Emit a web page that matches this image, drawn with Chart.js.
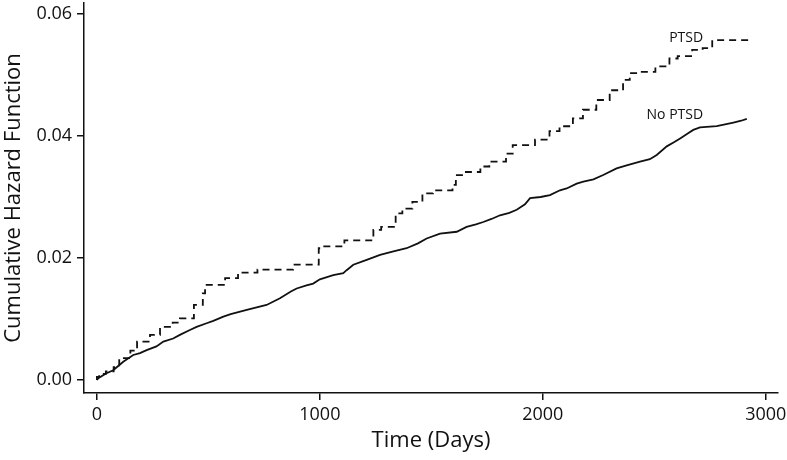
<!DOCTYPE html>
<html>
<head>
<meta charset="utf-8">
<title>Cumulative Hazard Function</title>
<script src="https://cdn.jsdelivr.net/npm/chart.js@4.4.1/dist/chart.umd.min.js"></script>
<style>
    body {
        margin: 0;
        background: #fff;
    }
    .chart-box {
        width: 787px;
        height: 460px;
    }
</style>
</head>
<body>
<div class="chart-box">
    <canvas id="hazard-chart"></canvas>
</div>
<script>
// PTSD group (dashed step curve)
const ptsdDays = [0, 10, 40, 75, 100, 150, 180, 238, 283, 340, 372, 435, 475, 485,
    575, 633, 720, 880, 995, 1012, 1110, 1240, 1275, 1340, 1370, 1415, 1460, 1507,
    1595, 1610, 1655, 1720, 1760, 1835, 1865, 1965, 2030, 2075, 2135, 2180, 2240,
    2300, 2360, 2390, 2425, 2505, 2568, 2605, 2670, 2717, 2760, 2838, 2922];
const ptsdHazard = [0, 0.0005, 0.0010, 0.0014, 0.0021, 0.0036, 0.0048, 0.0063, 0.0074,
    0.0087, 0.0094, 0.0101, 0.0123, 0.0142, 0.0156, 0.0167, 0.0176, 0.0181, 0.0189,
    0.0216, 0.0219, 0.0229, 0.0246, 0.0251, 0.0273, 0.0281, 0.0292, 0.0306, 0.0311,
    0.0320, 0.0336, 0.0341, 0.0350, 0.0358, 0.0371, 0.0385, 0.0394, 0.0408, 0.0416,
    0.0429, 0.0443, 0.0459, 0.0475, 0.0492, 0.0503, 0.0505, 0.0514, 0.0527, 0.0531,
    0.0541, 0.0544, 0.0557, 0.0557];

// No PTSD group (solid curve)
const noPtsdDays = [0, 6, 43, 73, 118, 163, 193, 223, 267, 298, 342, 372, 417, 447,
    492, 522, 567, 600, 672, 761, 821, 870, 896, 940, 970, 1000, 1060, 1105, 1120,
    1150, 1210, 1270, 1330, 1389, 1440, 1479, 1539, 1614, 1658, 1700, 1733, 1770,
    1808, 1850, 1883, 1920, 1943, 1990, 2032, 2077, 2107, 2152, 2182, 2227, 2271,
    2331, 2376, 2436, 2480, 2511, 2556, 2590, 2616, 2650, 2675, 2705, 2780, 2855,
    2890, 2915];
const noPtsdHazard = [0, 0.0003, 0.0011, 0.0016, 0.0030, 0.0041, 0.0044, 0.0049,
    0.0055, 0.0063, 0.0068, 0.0074, 0.0082, 0.0087, 0.0093, 0.0097, 0.0104, 0.0108,
    0.0115, 0.0123, 0.0134, 0.0145, 0.0150, 0.0155, 0.0158, 0.0165, 0.0172, 0.0175,
    0.0180, 0.0189, 0.0197, 0.0205, 0.0211, 0.0216, 0.0224, 0.0232, 0.0240, 0.0243,
    0.0251, 0.0255, 0.0259, 0.0264, 0.0270, 0.0274, 0.0279, 0.0288, 0.0298, 0.0300,
    0.0303, 0.0311, 0.0314, 0.0322, 0.0325, 0.0329, 0.0336, 0.0347, 0.0352, 0.0358,
    0.0362, 0.0369, 0.0383, 0.0390, 0.0396, 0.0404, 0.0410, 0.0414, 0.0416, 0.0422,
    0.0425, 0.0428];

// Tick labels
const xTicks = [0, 1000, 2000, 3000];
const yTicks = [0, 0.02, 0.04, 0.06];

// Curve labels: text, day, hazard (right aligned)
const curveLabels = [
    ["PTSD", 2719, 0.0560],
    ["No PTSD", 2719, 0.0434]
];

const fontName = "'Open Sans', sans-serif";

const toPoints = (days, vals) => days.map((d, i) => ({ x: d, y: vals[i] }));

// Draw curve names next to the lines
const labelPlugin = {
    id: 'curveLabels',
    afterDatasetsDraw(chart) {
        const ctx = chart.ctx;
        const xs = chart.scales.x;
        const ys = chart.scales.y;
        ctx.save();
        ctx.font = "14px " + fontName;
        ctx.fillStyle = '#111';
        ctx.textAlign = 'right';
        ctx.textBaseline = 'middle';
        curveLabels.forEach(l => {
            ctx.fillText(l[0], xs.getPixelForValue(l[1]), ys.getPixelForValue(l[2]));
        });
        ctx.restore();
    }
};

const hazardCanvas = document.getElementById("hazard-chart");

let hazardChart = new Chart(hazardCanvas, {
    type: 'line',
    data: {
        datasets: [{
            label: 'PTSD',
            data: toPoints(ptsdDays, ptsdHazard),
            borderColor: '#111',
            borderWidth: 1.8,
            borderDash: [7, 5],
            stepped: 'after',
            pointRadius: 0,
            fill: false
        }, {
            label: 'No PTSD',
            data: toPoints(noPtsdDays, noPtsdHazard),
            borderColor: '#111',
            borderWidth: 1.8,
            pointRadius: 0,
            tension: 0,
            fill: false
        }]
    },
    options: {
        responsive: true,
        maintainAspectRatio: false,
        animation: false,
        layout: {
            padding: { top: 3, right: 9, left: 0, bottom: 0 }
        },
        plugins: {
            legend: { display: false },
            tooltip: { enabled: false }
        },
        scales: {
            x: {
                type: 'linear',
                min: -58,
                max: 3055,
                afterBuildTicks: (scale) => {
                    scale.ticks = xTicks.map(v => ({ value: v }));
                },
                afterFit: (scale) => {
                    scale.height = 67;
                    scale.paddingLeft = 0;
                    scale.paddingRight = 0;
                },
                ticks: {
                    color: '#111',
                    padding: 4,
                    maxRotation: 0,
                    font: { family: fontName, size: 18 },
                    callback: (v) => String(v)
                },
                grid: {
                    drawOnChartArea: false,
                    drawTicks: true,
                    tickLength: 7,
                    color: '#111',
                    lineWidth: 1.5
                },
                border: { display: true, color: '#111', width: 1.5 },
                title: {
                    display: true,
                    text: 'Time (Days)',
                    color: '#111',
                    padding: { top: 0, bottom: 6 },
                    font: { family: fontName, size: 22 }
                }
            },
            y: {
                type: 'linear',
                min: -0.00213,
                max: 0.0618,
                afterBuildTicks: (scale) => {
                    scale.ticks = yTicks.map(v => ({ value: v }));
                },
                afterFit: (scale) => {
                    scale.width = 84;
                    scale.paddingTop = 0;
                    scale.paddingBottom = 0;
                },
                ticks: {
                    color: '#111',
                    padding: 5,
                    font: { family: fontName, size: 18 },
                    callback: (v) => v.toFixed(2)
                },
                grid: {
                    drawOnChartArea: false,
                    drawTicks: true,
                    tickLength: 7,
                    color: '#111',
                    lineWidth: 1.5
                },
                border: { display: true, color: '#111', width: 1.5 },
                title: {
                    display: true,
                    text: 'Cumulative Hazard Function',
                    color: '#111',
                    padding: { top: 1, bottom: 0 },
                    font: { family: fontName, size: 22 }
                }
            }
        }
    },
    plugins: [labelPlugin]
});
</script>
</body>
</html>
